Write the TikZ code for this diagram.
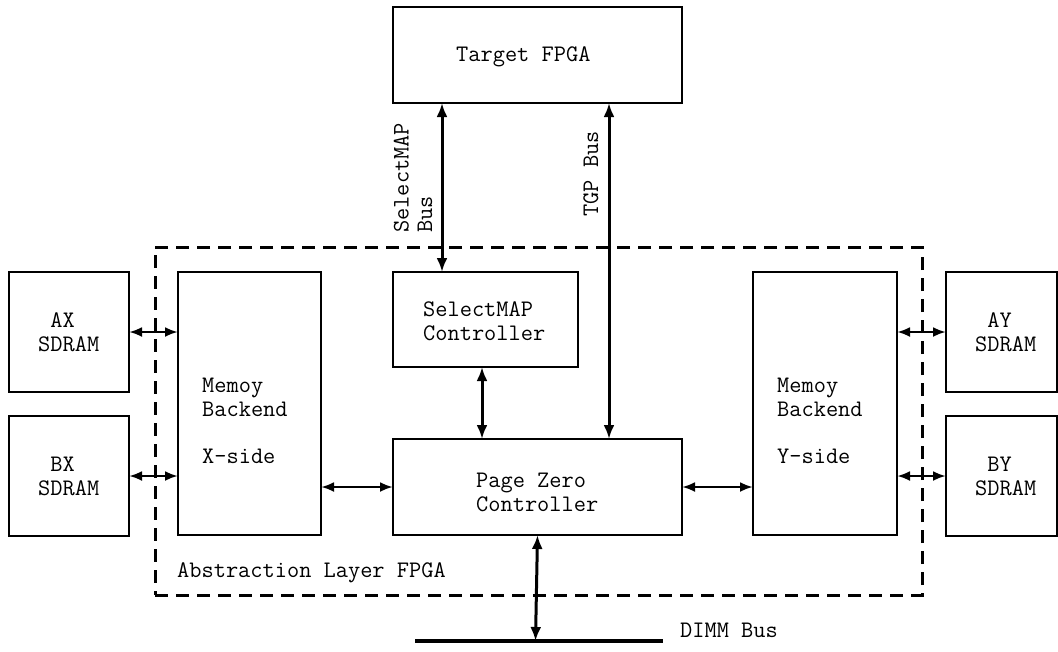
\documentclass[tikz,border=0pt]{standalone}
\usetikzlibrary{arrows.meta}
\begin{document}
\begin{tikzpicture}[x=1pt, y=-1pt,
  box/.style={draw, line width=1.2pt, inner sep=0pt, outer sep=0pt, anchor=north west},
  txt/.style={font=\fontsize{23.7}{23.5}\selectfont\ttfamily, inner sep=0pt, align=left, anchor=base west},
  bus/.style={line width=3pt, {Latex[length=14pt,width=11pt]}-{Latex[length=14pt,width=11pt]}},
  link/.style={line width=2.8pt, {Latex[length=13pt,width=10pt]}-{Latex[length=13pt,width=10pt]}},
  layer/.style={draw, line width=3pt, dash pattern=on 13pt off 8pt, inner sep=0pt, outer sep=0pt, anchor=north west}]
\useasboundingbox (0,0) rectangle (1058,651);

% enclosing FPGA region
\node[layer, minimum width=767pt, minimum height=348pt] (alayer) at (155,247) {};

% blocks
\node[box, minimum width=289pt, minimum height=96pt]  (tgt) at (393,7)   {};
\node[box, minimum width=185pt, minimum height=95pt]  (smc) at (393,272) {};
\node[box, minimum width=289pt, minimum height=96pt]  (pz)  at (393,439) {};
\node[box, minimum width=143pt, minimum height=263pt] (mbx) at (178,272) {};
\node[box, minimum width=144pt, minimum height=263pt] (mby) at (753,272) {};
\node[box, minimum width=120pt, minimum height=120pt] (ax)  at (9,272)   {};
\node[box, minimum width=120pt, minimum height=120pt] (bx)  at (9,416)   {};
\node[box, minimum width=111pt, minimum height=120pt] (ay)  at (946,272) {};
\node[box, minimum width=111pt, minimum height=120pt] (by)  at (946,416) {};

% block labels (anchored on the baseline of the last line)
\node[txt] (tgtT) at (456,61)  {Target FPGA};
\node[txt] (smcT) at (423,340) {SelectMAP\\Controller};
\node[txt] (pzT)  at (476,511) {Page Zero\\Controller};
\node[txt] (mbxT) at (202,463) {Memoy\\Backend\\[23.5pt]X-side};
\node[txt] (mbyT) at (777,463) {Memoy\\Backend\\[23.5pt]Y-side};
\node[txt] (axT)  at (38,351)  {\hphantom{S}AX\\SDRAM};
\node[txt] (bxT)  at (38,495)  {\hphantom{S}BX\\SDRAM};
\node[txt] (ayT)  at (975,351) {\hphantom{S}AY\\SDRAM};
\node[txt] (byT)  at (975,495) {\hphantom{S}BY\\SDRAM};
\node[txt] (alT)  at (177,577) {Abstraction Layer FPGA};

% bus labels
\node[txt, rotate=90] (selT) at (432,233) {SelectMAP\\Bus};
\node[txt, rotate=90] (tgpT) at (598,217) {TGP Bus};

% DIMM bus
\coordinate (dimmL) at (415,641);
\coordinate (dimmR) at (663,641);
\coordinate (dimmTap) at (535.5,641);
\draw[line width=4pt] (dimmL) -- (dimmR);
\node[txt] (dimmT) at (680,637) {DIMM Bus};

% vertical buses
\coordinate (xsel) at (442,0);
\coordinate (xtgp) at (609,0);
\coordinate (xctl) at (482,0);
\draw[bus] (tgt.south -| xsel) -- (smc.north -| xsel);
\draw[bus] (tgt.south -| xtgp) -- (pz.north -| xtgp);
\draw[bus] (smc.south -| xctl) -- (pz.north -| xctl);
\draw[bus] (pz.south) -- (dimmTap);

% horizontal links
\draw[link] (mbx.east |- pz.west) -- (pz.west);
\draw[link] (pz.east) -- (mby.west |- pz.east);
\draw[link] (ax.east) -- (ax.east -| mbx.west);
\draw[link] (bx.east) -- (bx.east -| mbx.west);
\draw[link] (mby.east |- ay.west) -- (ay.west);
\draw[link] (mby.east |- by.west) -- (by.west);
\end{tikzpicture}
\end{document}
